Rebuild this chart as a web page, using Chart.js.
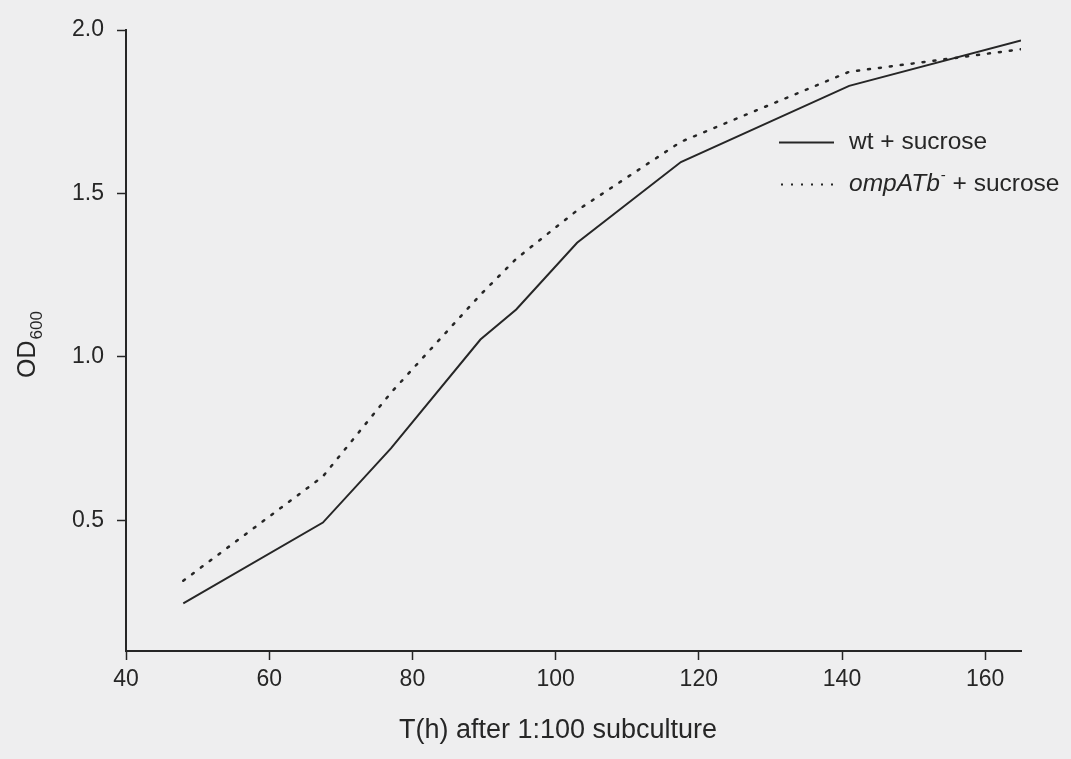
<!DOCTYPE html>
<html>
<head>
<meta charset="utf-8">
<script src="https://cdn.jsdelivr.net/npm/chart.js"></script>
<style>
  html, body { margin: 0; padding: 0; background: #eeeeef; }
  #wrap { width: 1071px; height: 759px; }
</style>
</head>
<body>
<div id="wrap"><canvas id="grafico" width="1071" height="759"></canvas></div>
<script>
// --- Datos ---
const horas = [48, 67.5, 77, 89.5, 94.5, 103, 117.5, 141, 165];
const wtSacarosa = [0.246, 0.493, 0.72, 1.053, 1.145, 1.349, 1.596, 1.829, 1.968];
const ompSacarosa = [0.315, 0.634, 0.89, 1.19, 1.30, 1.448, 1.658, 1.872, 1.941];
const ticksX = [40, 60, 80, 100, 120, 140, 160];
const ticksY = [0.5, 1.0, 1.5, 2.0];

const FUENTE = "'Liberation Sans', Arial, Helvetica, sans-serif";
const TINTA = "#262626";

function puntos(xs, ys) {
    return xs.map((x, i) => ({ x: x, y: ys[i] }));
}

// textos que Chart.js no sabe dibujar: título Y con subíndice, leyenda con cursiva
const textosExtra = {
    id: "textosExtra",
    afterDraw(chart) {
        const ctx = chart.ctx;
        ctx.save();
        ctx.fillStyle = TINTA;
        ctx.strokeStyle = TINTA;

        // eje X
        ctx.font = "27px " + FUENTE;
        ctx.textAlign = "center";
        ctx.textBaseline = "alphabetic";
        ctx.fillText("T(h) after 1:100 subculture", 558, 738);

        // eje Y: OD con 600 en subíndice
        ctx.save();
        ctx.translate(35, 378);
        ctx.rotate(-Math.PI / 2);
        ctx.textAlign = "left";
        ctx.font = "25px " + FUENTE;
        ctx.fillText("OD", 0, 0);
        const anchoOD = ctx.measureText("OD").width;
        ctx.font = "17px " + FUENTE;
        ctx.fillText("600", anchoOD + 1, 7);
        ctx.restore();

        // leyenda
        ctx.lineWidth = 2;
        ctx.beginPath();
        ctx.moveTo(779, 142.5);
        ctx.lineTo(834, 142.5);
        ctx.stroke();

        ctx.setLineDash([2, 8]);
        ctx.lineWidth = 2;
        ctx.beginPath();
        ctx.moveTo(781, 184.5);
        ctx.lineTo(834, 184.5);
        ctx.stroke();
        ctx.setLineDash([]);

        ctx.textAlign = "left";
        ctx.textBaseline = "middle";
        ctx.font = "24.5px " + FUENTE;
        ctx.fillText("wt + sucrose", 849, 142);

        ctx.font = "italic 24.5px " + FUENTE;
        let x = 849;
        ctx.fillText("ompATb", x, 184);
        x += ctx.measureText("ompATb").width;
        ctx.font = "15px " + FUENTE;
        ctx.fillText("-", x + 1, 176);
        x += ctx.measureText("-").width + 1;
        ctx.font = "24.5px " + FUENTE;
        ctx.fillText(" + sucrose", x, 184);
        ctx.restore();
    }
};

new Chart(document.getElementById("grafico"), {
    type: "line",
    data: {
        datasets: [
            {
                label: "wt + sucrose",
                data: puntos(horas, wtSacarosa),
                borderColor: TINTA,
                borderWidth: 2,
                pointRadius: 0,
                tension: 0,
                fill: false
            },
            {
                label: "ompATb- + sucrose",
                data: puntos(horas, ompSacarosa),
                borderColor: TINTA,
                borderWidth: 2.5,
                borderDash: [2, 9],
                borderCapStyle: "round",
                pointRadius: 0,
                tension: 0,
                fill: false
            }
        ]
    },
    options: {
        responsive: false,
        animation: false,
        devicePixelRatio: 1,
        layout: { padding: { left: 0, right: 50, top: 30, bottom: 0 } },
        plugins: {
            legend: { display: false },
            tooltip: { enabled: false }
        },
        scales: {
            x: {
                type: "linear",
                min: 40,
                max: 165,
                afterBuildTicks(scale) {
                    scale.ticks = ticksX.map(v => ({ value: v }));
                },
                afterFit(scale) { scale.height = 108; },
                grid: {
                    drawOnChartArea: false,
                    drawTicks: true,
                    tickLength: 9,
                    tickWidth: 1.5,
                    color: TINTA
                },
                border: { display: true, color: TINTA, width: 2 },
                ticks: {
                    padding: 6,
                    color: TINTA,
                    font: { family: FUENTE, size: 23 },
                    maxRotation: 0
                }
            },
            y: {
                type: "linear",
                min: 0.1,
                max: 2.0,
                afterBuildTicks(scale) {
                    scale.ticks = ticksY.map(v => ({ value: v }));
                },
                afterFit(scale) { scale.width = 126; },
                grid: {
                    drawOnChartArea: false,
                    drawTicks: true,
                    tickLength: 9,
                    tickWidth: 1.5,
                    color: TINTA
                },
                border: { display: true, color: TINTA, width: 2 },
                ticks: {
                    padding: 13,
                    color: TINTA,
                    font: { family: FUENTE, size: 23 },
                    callback: v => v.toFixed(1)
                }
            }
        }
    },
    plugins: [textosExtra]
});
</script>
</body>
</html>
